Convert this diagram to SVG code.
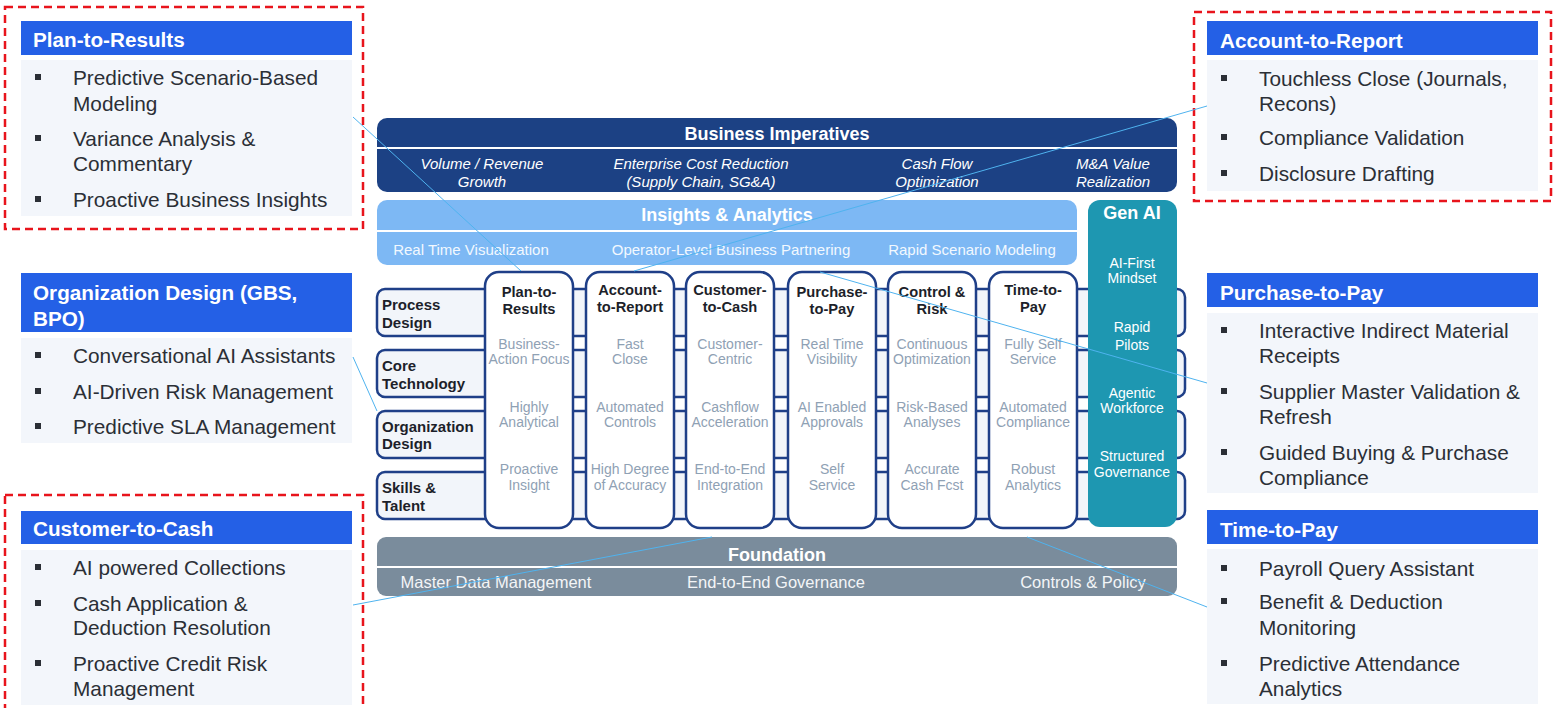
<svg xmlns="http://www.w3.org/2000/svg" width="1553" height="708" viewBox="0 0 1553 708">
<style>
text{font-family:"Liberation Sans",Arial,sans-serif;dominant-baseline:central}
.ph{fill:#2460e6}
.pb{fill:#f3f6fb}
.pht{fill:#fff;font-weight:bold;font-size:20.7px}
.pt{fill:#2b2f36;font-size:20.8px}
.bul{fill:#2b2f36}
.dash{fill:none;stroke:#e8141c;stroke-width:2.5;stroke-dasharray:8 5}
.band{font-weight:bold;font-size:18px;fill:#fff;text-anchor:middle}
.bi{font-style:italic;font-size:15px;fill:#fff;text-anchor:middle}
.ia{font-size:15px;fill:#f2f8ff;text-anchor:middle}
.fd{font-size:16.5px;fill:#f3f5f7;text-anchor:middle}
.row{fill:#f2f5fa;stroke:#1f3f88;stroke-width:2.5}
.rl{font-weight:bold;font-size:15px;fill:#1d1f2a}
.col{fill:#fff;stroke:#1f3f88;stroke-width:2.5}
.ct{font-weight:bold;font-size:14.7px;fill:#1d1f2a;text-anchor:middle}
.ci{font-size:14px;fill:#8fa1b4;text-anchor:middle}
.gi{font-size:14px;fill:#fff;text-anchor:middle}
.sep{stroke:#fff;stroke-width:2}
.con{stroke:#4fb3ef;stroke-width:1;fill:none}
</style>

<!-- Central framework -->
<g id="business-imperatives">
<rect x="377" y="118" width="800" height="74" rx="10" fill="#1c4184"/>
<line class="sep" x1="377" y1="148" x2="1177" y2="148"/>
<text class="band" x="777" y="134">Business Imperatives</text>
<text class="bi" x="482" y="163">Volume / Revenue</text>
<text class="bi" x="482" y="181">Growth</text>
<text class="bi" x="701" y="163">Enterprise Cost Reduction</text>
<text class="bi" x="701" y="181">(Supply Chain, SG&amp;A)</text>
<text class="bi" x="937" y="163">Cash Flow</text>
<text class="bi" x="937" y="181">Optimization</text>
<text class="bi" x="1113" y="163">M&amp;A Value</text>
<text class="bi" x="1113" y="181">Realization</text>
</g>

<g id="insights-analytics">
<rect x="377" y="200" width="700" height="65" rx="10" fill="#7db8f4"/>
<line class="sep" x1="377" y1="231" x2="1077" y2="231"/>
<text class="band" x="727" y="215">Insights &amp; Analytics</text>
<text class="ia" x="471" y="249">Real Time Visualization</text>
<text class="ia" x="731" y="249">Operator-Level Business Partnering</text>
<text class="ia" x="972" y="249">Rapid Scenario Modeling</text>
</g>

<g id="rows">
<rect class="row" x="377" y="289" width="808" height="47" rx="8"/>
<rect class="row" x="377" y="350" width="808" height="47" rx="8"/>
<rect class="row" x="377" y="411" width="808" height="47" rx="8"/>
<rect class="row" x="377" y="472" width="808" height="47" rx="8"/>
<text class="rl" x="382" y="304">Process</text>
<text class="rl" x="382" y="322">Design</text>
<text class="rl" x="382" y="365">Core</text>
<text class="rl" x="382" y="383">Technology</text>
<text class="rl" x="382" y="426">Organization</text>
<text class="rl" x="382" y="443">Design</text>
<text class="rl" x="382" y="487">Skills &amp;</text>
<text class="rl" x="382" y="505">Talent</text>
</g>

<g id="col-plan-to-results">
<rect class="col" x="485" y="272" width="88" height="256" rx="14"/>
<text class="ct" x="529" y="292">Plan-to-</text>
<text class="ct" x="529" y="309">Results</text>
<text class="ci" x="529" y="344">Business-</text>
<text class="ci" x="529" y="359">Action Focus</text>
<text class="ci" x="529" y="407">Highly</text>
<text class="ci" x="529" y="422">Analytical</text>
<text class="ci" x="529" y="469">Proactive</text>
<text class="ci" x="529" y="485">Insight</text>
</g>
<g id="col-account-to-report">
<rect class="col" x="586" y="272" width="88" height="256" rx="14"/>
<text class="ct" x="630" y="290">Account-</text>
<text class="ct" x="630" y="307">to-Report</text>
<text class="ci" x="630" y="344">Fast</text>
<text class="ci" x="630" y="359">Close</text>
<text class="ci" x="630" y="407">Automated</text>
<text class="ci" x="630" y="422">Controls</text>
<text class="ci" x="630" y="469">High Degree</text>
<text class="ci" x="630" y="485">of Accuracy</text>
</g>
<g id="col-customer-to-cash">
<rect class="col" x="686" y="272" width="88" height="256" rx="14"/>
<text class="ct" x="730" y="290">Customer-</text>
<text class="ct" x="730" y="307">to-Cash</text>
<text class="ci" x="730" y="344">Customer-</text>
<text class="ci" x="730" y="359">Centric</text>
<text class="ci" x="730" y="407">Cashflow</text>
<text class="ci" x="730" y="422">Acceleration</text>
<text class="ci" x="730" y="469">End-to-End</text>
<text class="ci" x="730" y="485">Integration</text>
</g>
<g id="col-purchase-to-pay">
<rect class="col" x="788" y="272" width="88" height="256" rx="14"/>
<text class="ct" x="832" y="292">Purchase-</text>
<text class="ct" x="832" y="309">to-Pay</text>
<text class="ci" x="832" y="344">Real Time</text>
<text class="ci" x="832" y="359">Visibility</text>
<text class="ci" x="832" y="407">AI Enabled</text>
<text class="ci" x="832" y="422">Approvals</text>
<text class="ci" x="832" y="469">Self</text>
<text class="ci" x="832" y="485">Service</text>
</g>
<g id="col-control-risk">
<rect class="col" x="888" y="272" width="88" height="256" rx="14"/>
<text class="ct" x="932" y="292">Control &amp;</text>
<text class="ct" x="932" y="309">Risk</text>
<text class="ci" x="932" y="344">Continuous</text>
<text class="ci" x="932" y="359">Optimization</text>
<text class="ci" x="932" y="407">Risk-Based</text>
<text class="ci" x="932" y="422">Analyses</text>
<text class="ci" x="932" y="469">Accurate</text>
<text class="ci" x="932" y="485">Cash Fcst</text>
</g>
<g id="col-time-to-pay">
<rect class="col" x="989" y="272" width="88" height="256" rx="14"/>
<text class="ct" x="1033" y="290">Time-to-</text>
<text class="ct" x="1033" y="307">Pay</text>
<text class="ci" x="1033" y="344">Fully Self</text>
<text class="ci" x="1033" y="359">Service</text>
<text class="ci" x="1033" y="407">Automated</text>
<text class="ci" x="1033" y="422">Compliance</text>
<text class="ci" x="1033" y="469">Robust</text>
<text class="ci" x="1033" y="485">Analytics</text>
</g>

<g id="gen-ai">
<rect x="1088" y="200" width="89" height="327" rx="12" fill="#1e97b1"/>
<text class="band" x="1132" y="213">Gen AI</text>
<text class="gi" x="1132" y="263">AI-First</text>
<text class="gi" x="1132" y="278">Mindset</text>
<text class="gi" x="1132" y="327">Rapid</text>
<text class="gi" x="1132" y="345">Pilots</text>
<text class="gi" x="1132" y="393">Agentic</text>
<text class="gi" x="1132" y="408">Workforce</text>
<text class="gi" x="1132" y="456">Structured</text>
<text class="gi" x="1132" y="472">Governance</text>
</g>

<g id="foundation">
<rect x="377" y="537" width="800" height="59" rx="9" fill="#7a8c9c"/>
<line class="sep" x1="377" y1="567" x2="1177" y2="567"/>
<text class="band" x="777" y="555">Foundation</text>
<text class="fd" x="496" y="582">Master Data Management</text>
<text class="fd" x="776" y="582">End-to-End Governance</text>
<text class="fd" x="1083" y="582">Controls &amp; Policy</text>
</g>

<!-- Side panels -->
<g id="panel-plan-to-results">
<rect class="dash" x="5" y="7" width="358" height="222"/>
<rect class="ph" x="21" y="21" width="331" height="34"/>
<text class="pht" x="33" y="39">Plan-to-Results</text>
<rect class="pb" x="21" y="60" width="331" height="156"/>
<rect class="bul" x="35" y="74" width="6" height="6"/><text class="pt" x="73" y="77">Predictive Scenario-Based</text>
<text class="pt" x="73" y="103">Modeling</text>
<rect class="bul" x="35" y="135" width="6" height="6"/><text class="pt" x="73" y="138">Variance Analysis &amp;</text>
<text class="pt" x="73" y="163">Commentary</text>
<rect class="bul" x="35" y="196" width="6" height="6"/><text class="pt" x="73" y="199">Proactive Business Insights</text>
</g>

<g id="panel-account-to-report">
<rect class="dash" x="1194" y="12" width="357" height="189"/>
<rect class="ph" x="1207" y="21" width="331" height="34"/>
<text class="pht" x="1220" y="40">Account-to-Report</text>
<rect class="pb" x="1207" y="60" width="331" height="131"/>
<rect class="bul" x="1221" y="75" width="6" height="6"/><text class="pt" x="1259" y="78">Touchless Close (Journals,</text>
<text class="pt" x="1259" y="103">Recons)</text>
<rect class="bul" x="1221" y="134" width="6" height="6"/><text class="pt" x="1259" y="137">Compliance Validation</text>
<rect class="bul" x="1221" y="170" width="6" height="6"/><text class="pt" x="1259" y="173">Disclosure Drafting</text>
</g>

<g id="panel-organization-design">
<rect class="ph" x="21" y="273" width="331" height="59"/>
<text class="pht" x="33" y="292">Organization Design (GBS,</text>
<text class="pht" x="33" y="318">BPO)</text>
<rect class="pb" x="21" y="338" width="331" height="105"/>
<rect class="bul" x="35" y="352" width="6" height="6"/><text class="pt" x="73" y="355">Conversational AI Assistants</text>
<rect class="bul" x="35" y="388" width="6" height="6"/><text class="pt" x="73" y="391">AI-Driven Risk Management</text>
<rect class="bul" x="35" y="423" width="6" height="6"/><text class="pt" x="73" y="426">Predictive SLA Management</text>
</g>

<g id="panel-purchase-to-pay">
<rect class="ph" x="1207" y="273" width="331" height="34"/>
<text class="pht" x="1220" y="292">Purchase-to-Pay</text>
<rect class="pb" x="1207" y="313" width="331" height="180"/>
<rect class="bul" x="1221" y="327" width="6" height="6"/><text class="pt" x="1259" y="330">Interactive Indirect Material</text>
<text class="pt" x="1259" y="355">Receipts</text>
<rect class="bul" x="1221" y="388" width="6" height="6"/><text class="pt" x="1259" y="391">Supplier Master Validation &amp;</text>
<text class="pt" x="1259" y="416">Refresh</text>
<rect class="bul" x="1221" y="449" width="6" height="6"/><text class="pt" x="1259" y="452">Guided Buying &amp; Purchase</text>
<text class="pt" x="1259" y="477">Compliance</text>
</g>

<g id="panel-customer-to-cash">
<rect class="dash" x="5" y="495" width="358" height="225"/>
<rect class="ph" x="21" y="511" width="331" height="33"/>
<text class="pht" x="33" y="528">Customer-to-Cash</text>
<rect class="pb" x="21" y="550" width="331" height="155"/>
<rect class="bul" x="35" y="564" width="6" height="6"/><text class="pt" x="73" y="567">AI powered Collections</text>
<rect class="bul" x="35" y="600" width="6" height="6"/><text class="pt" x="73" y="603">Cash Application &amp;</text>
<text class="pt" x="73" y="627">Deduction Resolution</text>
<rect class="bul" x="35" y="660" width="6" height="6"/><text class="pt" x="73" y="663">Proactive Credit Risk</text>
<text class="pt" x="73" y="688">Management</text>
</g>

<g id="panel-time-to-pay">
<rect class="ph" x="1207" y="510" width="331" height="34"/>
<text class="pht" x="1220" y="529">Time-to-Pay</text>
<rect class="pb" x="1207" y="549" width="331" height="155"/>
<rect class="bul" x="1221" y="565" width="6" height="6"/><text class="pt" x="1259" y="568">Payroll Query Assistant</text>
<rect class="bul" x="1221" y="598" width="6" height="6"/><text class="pt" x="1259" y="601">Benefit &amp; Deduction</text>
<text class="pt" x="1259" y="627">Monitoring</text>
<rect class="bul" x="1221" y="660" width="6" height="6"/><text class="pt" x="1259" y="663">Predictive Attendance</text>
<text class="pt" x="1259" y="688">Analytics</text>
</g>

<g id="connectors">
<line class="con" x1="353" y1="117" x2="521" y2="271"/>
<line class="con" x1="1207" y1="106" x2="634" y2="271"/>
<line class="con" x1="353" y1="357" x2="377" y2="411"/>
<line class="con" x1="820" y1="272" x2="1207" y2="383"/>
<line class="con" x1="353" y1="605" x2="712" y2="537"/>
<line class="con" x1="1027" y1="537" x2="1207" y2="607"/>
</g>
</svg>
